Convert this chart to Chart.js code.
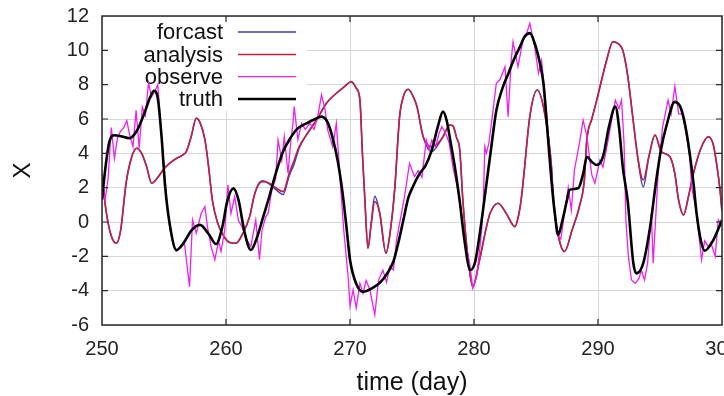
<!DOCTYPE html>
<html>
<head>
<meta charset="utf-8">
<script src="https://cdn.jsdelivr.net/npm/chart.js@4.4.1/dist/chart.umd.min.js"></script>
<style>
  html, body { margin: 0; padding: 0; background: #fff; overflow: hidden; }
  #wrap { width: 724px; height: 396px; position: relative; }
</style>
</head>
<body>
<div id="wrap"><canvas id="c" width="724" height="396"></canvas></div>
<script>
// ---- data ----
const xTicks = [250, 260, 270, 280, 290, 300];
const yTicks = [-6, -4, -2, 0, 2, 4, 6, 8, 10, 12];
const legendLabels = ['forcast', 'analysis', 'observe', 'truth'];

const truthDays = [250.0,250.3,250.6,251.0,251.5,252.2,252.8,253.4,253.9,254.2,254.5,254.8,255.1,255.5,256.0,256.6,257.2,257.9,258.6,259.2,259.7,260.1,260.6,261.0,261.5,262.0,262.5,263.0,263.5,264.0,264.6,265.2,265.7,266.5,267.2,267.7,268.2,268.6,269.0,269.4,269.7,270.0,270.5,271.05,271.8,272.4,273.0,273.5,273.9,274.3,274.7,275.1,275.6,276.1,276.6,277.1,277.5,277.8,278.1,278.5,278.85,279.2,279.7,280.1,280.5,281.0,281.4,281.8,282.3,282.8,283.2,283.7,284.1,284.5,284.9,285.3,285.6,285.9,286.25,286.5,286.8,287.1,287.5,287.7,288.4,288.8,289.1,289.5,289.9,290.4,290.9,291.4,291.7,292.0,292.4,292.85,293.1,293.65,294.2,294.7,295.1,295.5,296.2,296.7,297.15,297.7,297.95,298.3,298.6,299.3,300.0];
const truthVals = [1.3,3.3,4.7,5.05,5.0,4.88,5.3,6.3,7.3,7.65,7.2,5.0,2.0,-0.3,-1.63,-1.2,-0.5,-0.17,-0.7,-1.28,-0.3,1.2,1.96,1.3,-0.6,-1.63,-0.9,0.3,1.5,2.8,4.1,4.9,5.4,5.75,6.0,6.14,5.8,4.9,3.6,1.7,-0.2,-2.2,-3.6,-4.06,-3.85,-3.55,-3.0,-2.3,-1.2,0.1,1.4,2.1,2.8,3.3,4.2,5.6,6.43,5.9,4.7,3.0,1.2,-0.9,-2.8,-2.3,-0.5,2.2,4.4,6.5,7.8,8.7,9.44,10.2,10.8,11.0,10.4,9.3,8.08,5.5,2.4,0.6,-0.75,0.0,1.28,1.87,1.96,2.8,3.8,3.5,3.32,3.8,5.6,6.72,5.5,3.2,1.2,-2.4,-2.99,-2.4,-0.3,2.45,4.3,5.55,7.0,6.6,5.17,2.26,0.51,-1.1,-1.67,-1.05,0.12];

const analysisDays = [250.0,250.3,250.7,251.15,251.5,251.95,252.4,252.8,253.2,253.6,254.0,254.5,255.0,255.45,256.0,256.5,256.8,257.2,257.6,257.9,258.3,258.6,258.9,259.3,259.8,260.3,260.8,261.4,261.9,262.3,262.7,263.0,263.5,264.0,264.6,265.1,265.5,265.9,266.6,267.3,268.1,268.9,269.5,270.1,270.5,270.8,271.0,271.2,271.45,271.7,272.0,272.4,272.9,273.2,273.6,274.0,274.3,274.7,275.1,275.4,275.9,276.6,277.1,277.5,278.05,278.3,278.6,278.85,279.1,279.5,279.9,280.45,281.0,281.3,281.95,282.6,283.3,283.6,283.8,284.0,284.5,285.1,285.7,286.25,286.4,286.8,287.3,287.9,288.5,288.9,289.1,289.5,289.9,290.3,290.7,291.2,291.6,292.0,292.4,292.8,293.2,293.65,294.1,294.6,295.1,295.8,296.2,296.5,296.9,297.3,297.7,298.3,298.9,299.3,299.6,299.85,300.0];
const analysisVals = [2.8,0.8,-0.7,-1.24,-0.5,2.3,3.8,4.3,4.0,3.22,2.26,2.6,3.1,3.42,3.7,3.9,4.1,5.0,6.04,5.8,4.8,3.2,1.28,0.0,-0.8,-1.2,-1.24,-0.6,0.3,1.6,2.26,2.35,2.26,2.0,1.77,2.84,3.6,4.39,5.2,5.94,6.92,7.5,7.85,8.17,7.8,7.1,4.0,1.28,-1.53,-0.2,1.19,0.51,-1.82,-0.8,1.87,6.14,7.3,7.73,7.3,6.72,4.97,4.39,4.6,4.97,5.65,5.6,4.9,4.2,1.28,-2.0,-3.77,-2.2,-0.3,0.51,1.09,0.5,-0.27,0.4,1.28,2.6,6.14,7.69,6.33,3.2,1.28,-0.8,-1.72,-0.5,0.9,2.45,4.78,6.0,7.1,8.3,9.44,10.5,10.4,10.0,8.5,6.14,3.8,2.45,3.8,5.07,4.1,3.8,2.8,1.28,0.41,1.5,2.84,4.3,4.97,4.5,3.22,1.8,0.6];
const forecastVals = [2.8,0.8,-0.7,-1.24,-0.5,2.3,3.8,4.3,4.0,3.22,2.26,2.6,3.1,3.42,3.7,3.9,4.1,5.0,6.04,5.8,4.8,3.2,1.28,0.0,-0.8,-1.2,-1.24,-0.6,0.3,1.6,2.3,2.4,2.2,1.9,1.6,2.7,3.4,4.3,5.2,5.94,6.92,7.5,7.85,8.17,7.8,7.1,4.0,1.28,-1.53,-0.1,1.5,0.51,-1.82,-0.8,1.87,6.14,7.3,7.73,7.3,6.72,4.97,4.1,4.5,4.97,5.65,5.6,4.9,4.2,1.28,-2.0,-3.77,-2.2,-0.3,0.51,1.09,0.5,-0.27,0.4,1.28,2.6,6.14,7.69,6.33,3.2,1.28,-0.8,-1.72,-0.5,0.9,2.45,4.78,6.0,7.1,8.3,9.44,10.5,10.4,10.0,8.5,6.14,3.8,2.05,3.8,5.07,4.1,3.8,2.8,1.28,0.41,1.5,2.84,4.3,4.97,4.5,3.22,1.8,0.6];

const obsDays = [250.0,250.25,250.5,250.75,251.0,251.25,251.5,251.75,252.0,252.25,252.5,252.75,253.0,253.25,253.5,253.75,254.0,254.25,254.5,254.75,255.0,255.25,255.5,255.75,256.0,256.3,256.65,257.06,257.3,257.6,258.0,258.3,258.5,258.8,259.1,259.4,259.6,259.9,260.15,260.4,260.7,261.0,261.3,261.6,262.0,262.4,262.7,262.9,263.2,263.4,263.7,264.0,264.2,264.5,264.7,265.0,265.2,265.4,265.5,265.8,266.1,266.4,266.75,267.1,267.4,267.7,268.0,268.2,268.6,268.9,269.2,269.5,269.85,270.0,270.25,270.5,270.8,271.05,271.3,271.6,272.0,272.3,272.65,272.95,273.2,273.5,273.75,274.15,274.4,274.8,275.2,275.5,275.8,276.15,276.4,276.6,276.9,277.2,277.4,277.7,278.0,278.3,278.6,278.85,279.25,279.65,279.9,280.2,280.4,280.6,280.75,280.87,281.0,281.2,281.5,281.8,282.1,282.5,282.75,283.0,283.15,283.55,284.0,284.25,284.5,284.9,285.2,285.45,285.7,286.0,286.25,286.4,286.65,287.0,287.3,287.6,287.85,288.1,288.5,288.8,289.1,289.5,289.75,290.15,290.4,290.75,291.1,291.4,291.7,291.9,292.1,292.25,292.45,292.7,293.0,293.3,293.5,293.75,294.0,294.3,294.45,294.85,295.2,295.65,295.9,296.2,296.5,296.8,297.1,297.4,297.55,297.95,298.35,298.6,298.9,299.1,299.45,299.7,300.0];
const obsVals = [2.0,1.3,2.6,5.5,3.7,4.9,5.3,5.5,5.9,5.0,4.4,6.5,4.3,6.7,6.2,8.1,7.3,7.6,8.0,5.5,3.2,1.0,-0.5,-1.3,-1.7,-1.5,-1.24,-3.77,0.12,-0.65,0.51,0.9,-0.27,-1.44,-2.2,-1.1,-1.72,-0.46,2.16,0.5,1.48,0.1,-0.3,-0.95,-1.44,0.12,-2.2,-0.5,0.3,0.51,1.9,2.5,4.78,3.6,4.97,2.84,4.5,5.75,6.72,4.8,5.75,5.4,5.75,5.4,6.14,7.4,6.5,5.36,4.39,5.75,2.5,-0.5,-3.2,-4.9,-3.95,-5.0,-3.57,-4.15,-3.4,-3.95,-5.4,-3.4,-2.8,-3.5,-2.6,-2.8,-1.05,0.5,1.5,3.42,2.64,3.0,2.6,4.78,4.2,4.78,4.4,5.2,5.55,5.2,4.6,3.2,2.2,1.28,-1.05,-2.4,-3.86,-3.2,-2.0,-0.6,1.0,4.39,4.0,4.6,6.3,8.08,8.3,9.05,6.14,9.4,10.5,9.05,10.8,11.0,11.57,10.2,8.66,9.4,7.6,5.0,2.8,1.67,-0.66,-1.0,0.51,2.0,0.7,3.03,4.58,5.94,5.0,2.74,2.26,3.6,3.2,4.5,5.94,7.1,6.6,7.1,4.6,0.1,-2.0,-3.38,-3.57,-3.3,-2.8,-3.38,-2.4,0.51,-2.4,2.84,5.5,7.1,6.3,7.9,6.3,6.3,5.2,3.8,2.06,0.51,-2.2,-1.1,-1.44,-1.2,-2.0,0.12,-0.2];

// ---- build points ----
const pts = (xs, ys) => xs.map((x, i) => ({ x: x, y: ys[i] }));

const COLORS = { forcast: '#3a3ad0', analysis: '#c8203c', observe: '#f020f0', truth: '#000000' };
const WIDTHS = { forcast: 1.5, analysis: 1.6, observe: 1.3, truth: 2.6 };
const FONT = '"Liberation Sans", Arial, Helvetica, sans-serif';

const legendPlugin = {
  id: 'insideLegend',
  beforeDatasetsDraw(chart) {
    const ctx = chart.ctx, a = chart.chartArea;
    ctx.save();
    ctx.fillStyle = '#ffffff';
    ctx.fillRect(a.left + 1, a.top + 1, 306 - a.left, 110 - a.top);
    const rows = [32, 54.5, 76.7, 99];
    const keys = ['forcast', 'analysis', 'observe', 'truth'];
    ctx.font = '22px ' + FONT;
    ctx.textAlign = 'right';
    ctx.textBaseline = 'middle';
    keys.forEach((k, i) => {
      ctx.fillStyle = '#111';
      ctx.fillText(legendLabels[i], 223, rows[i] + 1);
      ctx.strokeStyle = COLORS[k];
      ctx.lineWidth = WIDTHS[k];
      ctx.beginPath();
      ctx.moveTo(238, rows[i]);
      ctx.lineTo(296, rows[i]);
      ctx.stroke();
    });
    ctx.restore();
  }
};

const framePlugin = {
  id: 'frame',
  afterDraw(chart) {
    const ctx = chart.ctx, a = chart.chartArea;
    const xs = chart.scales.x, ys = chart.scales.y;
    ctx.save();
    ctx.strokeStyle = '#2a2a2a';
    ctx.lineWidth = 1.5;
    ctx.strokeRect(a.left, a.top, a.right - a.left, a.bottom - a.top);
    ctx.lineWidth = 1.2;
    ctx.beginPath();
    xTicks.forEach(v => {
      const px = xs.getPixelForValue(v);
      if (v === xTicks[0] || v === xTicks[xTicks.length - 1]) return;
      ctx.moveTo(px, a.bottom); ctx.lineTo(px, a.bottom - 6);
      ctx.moveTo(px, a.top); ctx.lineTo(px, a.top + 6);
    });
    yTicks.forEach(v => {
      const py = ys.getPixelForValue(v);
      if (v === yTicks[0] || v === yTicks[yTicks.length - 1]) return;
      ctx.moveTo(a.left, py); ctx.lineTo(a.left + 6, py);
      ctx.moveTo(a.right, py); ctx.lineTo(a.right - 6, py);
    });
    ctx.stroke();
    ctx.restore();
  }
};

new Chart(document.getElementById('c'), {
  type: 'line',
  data: {
    datasets: [
      { label: legendLabels[0], data: pts(analysisDays, forecastVals), borderColor: COLORS.forcast, borderWidth: WIDTHS.forcast, cubicInterpolationMode: 'monotone', pointRadius: 0, fill: false, order: 4 },
      { label: legendLabels[1], data: pts(analysisDays, analysisVals), borderColor: COLORS.analysis, borderWidth: WIDTHS.analysis, cubicInterpolationMode: 'monotone', pointRadius: 0, fill: false, order: 3 },
      { label: legendLabels[2], data: pts(obsDays, obsVals), borderColor: COLORS.observe, borderWidth: WIDTHS.observe, tension: 0, pointRadius: 0, fill: false, order: 2 },
      { label: legendLabels[3], data: pts(truthDays, truthVals), borderColor: COLORS.truth, borderWidth: WIDTHS.truth, cubicInterpolationMode: 'monotone', pointRadius: 0, fill: false, order: 1 }
    ]
  },
  options: {
    responsive: false,
    animation: false,
    devicePixelRatio: 1,
    layout: { padding: { left: 0, right: 2, top: 16, bottom: 0 } },
    plugins: { legend: { display: false }, tooltip: { enabled: false } },
    scales: {
      x: {
        type: 'linear', min: 250, max: 300,
        afterBuildTicks: s => { s.ticks = xTicks.map(v => ({ value: v })); },
        ticks: { autoSkip: false, maxRotation: 0, padding: 12, color: '#222', font: { family: FONT, size: 20 } },
        grid: { color: '#d6d6d6', lineWidth: 1, drawTicks: false },
        border: { display: false },
        title: { display: true, text: 'time (day)', color: '#111', font: { family: FONT, size: 25, lineHeight: 1.05 }, padding: { top: 0, bottom: 0 } },
        afterFit: s => { s.paddingLeft = 0; s.paddingRight = 0; s.height = 71; }
      },
      y: {
        type: 'linear', min: -6, max: 12,
        afterBuildTicks: s => { s.ticks = yTicks.map(v => ({ value: v })); },
        ticks: { autoSkip: false, padding: 13, color: '#222', font: { family: FONT, size: 20 } },
        grid: { color: '#d6d6d6', lineWidth: 1, drawTicks: false },
        border: { display: false },
        title: { display: true, text: 'X', color: '#111', font: { family: FONT, size: 24 }, padding: { top: 9, bottom: 0 } },
        afterFit: s => { s.paddingTop = 0; s.paddingBottom = 0; s.width = 102; }
      }
    }
  },
  plugins: [legendPlugin, framePlugin]
});
</script>
</body>
</html>
